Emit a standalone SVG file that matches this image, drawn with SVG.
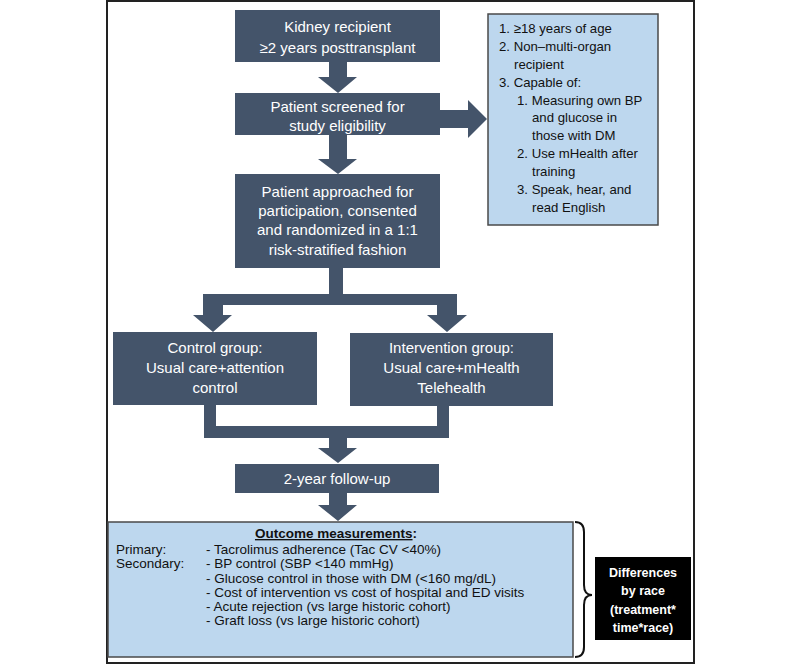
<svg xmlns="http://www.w3.org/2000/svg" width="800" height="667" viewBox="0 0 800 667">
<style>
.dark{fill:#44546A;}
.light{fill:#BDD7EE;stroke:#4a4a4a;stroke-width:1.5;}
.wt{font-family:"Liberation Sans",Arial,sans-serif;font-size:15px;fill:#ffffff;text-anchor:middle;}
.lt{font-family:"Liberation Sans",Arial,sans-serif;font-size:13.2px;fill:#111111;}
.ot{font-family:"Liberation Sans",Arial,sans-serif;font-size:13.5px;fill:#111111;}
.bt{font-family:"Liberation Sans",Arial,sans-serif;font-size:12.5px;font-weight:bold;fill:#ffffff;text-anchor:middle;}
.conn{fill:#44546A;}
</style>
<rect x="0" y="0" width="800" height="667" fill="#ffffff"/>
<rect id="frame" x="107" y="1" width="587" height="662" fill="#ffffff" stroke="#222222" stroke-width="2"/>

<g id="connectors">
  <polygon class="conn" points="329,62 347,62 347,77 357,77 338,93 318,77 329,77"/>
  <polygon class="conn" points="329,135 347,135 347,159 357,159 338,174 318,159 329,159"/>
  <polygon class="conn" points="440,110 468,110 468,100 487,119 468,138 468,128 440,128"/>
  <path class="conn" d="M329,268 H343 V294 H457 V315 H467 L447,332 L427,315 H437 V305 H223 V315 H232 L213,332 L193,315 H203 V294 H329 Z"/>
  <path class="conn" d="M204,405 H216 V426 H437 V406 H449 V438 H347 V448 H357 L338,463 L318,448 H329 V438 H204 Z"/>
  <polygon class="conn" points="329,493 347,493 347,505 357,505 338,521 318,505 329,505"/>
  <path d="M575,522 Q584,522 584,532 L584,585 Q584,595 592,595 Q584,595 584,605 L584,647 Q584,657 575,657" fill="none" stroke="#111111" stroke-width="2"/>
</g>

<g id="n-kidney">
  <rect class="dark" x="235" y="10" width="205" height="52"/>
  <text class="wt" x="337.5" y="32">Kidney recipient</text>
  <text class="wt" x="337.5" y="53">≥2 years posttransplant</text>
</g>

<g id="n-screened">
  <rect class="dark" x="235" y="93" width="205" height="42"/>
  <text class="wt" x="337.5" y="112">Patient screened for</text>
  <text class="wt" x="337.5" y="131">study eligibility</text>
</g>

<g id="n-approached">
  <rect class="dark" x="235" y="174" width="205" height="94"/>
  <text class="wt" x="337.5" y="197">Patient approached for</text>
  <text class="wt" x="337.5" y="216">participation, consented</text>
  <text class="wt" x="337.5" y="235">and randomized in a 1:1</text>
  <text class="wt" x="337.5" y="255">risk-stratified fashion</text>
</g>

<g id="n-eligibility">
  <rect class="light" x="488" y="14" width="170" height="211"/>
  <text class="lt" x="499" y="33">1. ≥18 years of age</text>
  <text class="lt" x="499" y="51">2. Non–multi-organ</text>
  <text class="lt" x="514" y="69">recipient</text>
  <text class="lt" x="499" y="87">3. Capable of:</text>
  <text class="lt" x="517" y="105">1. Measuring own BP</text>
  <text class="lt" x="532" y="122">and glucose in</text>
  <text class="lt" x="532" y="140">those with DM</text>
  <text class="lt" x="517" y="158">2. Use mHealth after</text>
  <text class="lt" x="532" y="176">training</text>
  <text class="lt" x="517" y="194">3. Speak, hear, and</text>
  <text class="lt" x="532" y="212">read English</text>
</g>

<g id="n-control">
  <rect class="dark" x="113" y="332" width="204" height="73"/>
  <text class="wt" x="215" y="353">Control group:</text>
  <text class="wt" x="215" y="373">Usual care+attention</text>
  <text class="wt" x="215" y="393">control</text>
</g>

<g id="n-intervention">
  <rect class="dark" x="350" y="333" width="203" height="73"/>
  <text class="wt" x="451.5" y="353">Intervention group:</text>
  <text class="wt" x="451.5" y="373">Usual care+mHealth</text>
  <text class="wt" x="451.5" y="393">Telehealth</text>
</g>

<g id="n-followup">
  <rect class="dark" x="235" y="464" width="204" height="29"/>
  <text class="wt" x="337" y="484">2-year follow-up</text>
</g>

<g id="n-outcome">
  <rect class="light" x="108" y="522" width="465" height="135"/>
  <text class="ot" x="336" y="538" text-anchor="middle" font-weight="bold" font-size="14"><tspan text-decoration="underline">Outcome measurements</tspan>:</text>
  <text class="ot" x="116" y="554">Primary:</text>
  <text class="ot" x="206" y="554">- Tacrolimus adherence (Tac CV &lt;40%)</text>
  <text class="ot" x="116" y="568">Secondary:</text>
  <text class="ot" x="206" y="568">- BP control (SBP &lt;140 mmHg)</text>
  <text class="ot" x="206" y="583">- Glucose control in those with DM (&lt;160 mg/dL)</text>
  <text class="ot" x="206" y="597">- Cost of intervention vs cost of hospital and ED visits</text>
  <text class="ot" x="206" y="611">- Acute rejection (vs large historic cohort)</text>
  <text class="ot" x="206" y="625">- Graft loss (vs large historic cohort)</text>
</g>

<g id="n-race">
  <rect x="595" y="557" width="96" height="83" fill="#000000"/>
  <text class="bt" x="643" y="577">Differences</text>
  <text class="bt" x="643" y="595">by race</text>
  <text class="bt" x="643" y="614">(treatment*</text>
  <text class="bt" x="643" y="632">time*race)</text>
</g>
</svg>
